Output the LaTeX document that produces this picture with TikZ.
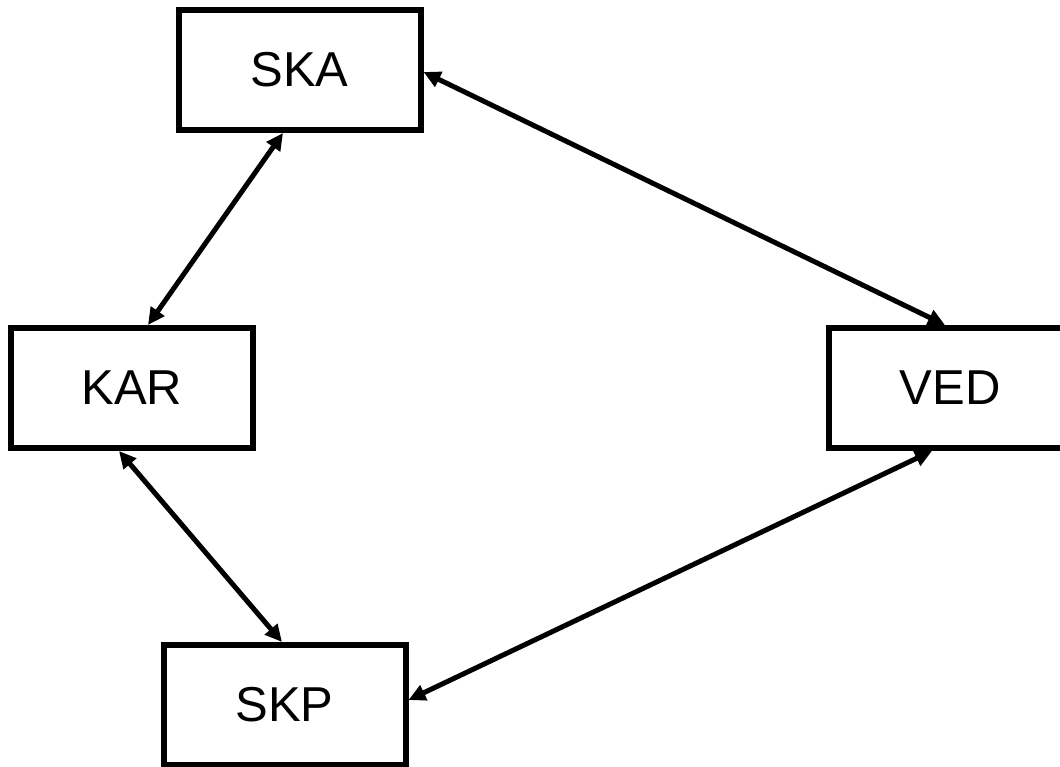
\documentclass[tikz,border=0pt]{standalone}
\usepackage{fontspec}
\setmainfont{Liberation Sans}
\usepackage{tikz}
\usetikzlibrary{arrows.meta}
\tikzset{
    Box/.style = {draw,rectangle,line width=6pt,minimum width=242pt,minimum height=120pt,
        inner sep=0pt,font=\fontsize{49}{57}\selectfont},
    Link/.style = {line width=5pt,{Triangle[length=17pt,width=16pt]}-{Triangle[length=17pt,width=16pt]}}
}
\begin{document}
\begin{tikzpicture}[x=1pt,y=-1pt]
    \useasboundingbox (0,0) rectangle (1060,766);
    \node[Box] (SKA) at (299.5,70) {SKA};
    \node[Box] (KAR) at (132,388) {KAR};
    \node[Box] (VED) at (950,388) {VED};
    \node[Box] (SKP) at (284.5,705) {SKP};
    \draw[Link] ([xshift=-16.5pt]SKA.south) -- ([xshift=16pt]KAR.north);
    \draw[Link] ([xshift=-13pt]KAR.south) -- ([xshift=-2.5pt]SKP.north);
    \draw[Link] ([yshift=-2pt]SKA.east) -- ([xshift=-5pt]VED.north);
    \draw[Link] ([xshift=-18pt]VED.south) -- ([yshift=5pt]SKP.east);
\end{tikzpicture}
\end{document}
